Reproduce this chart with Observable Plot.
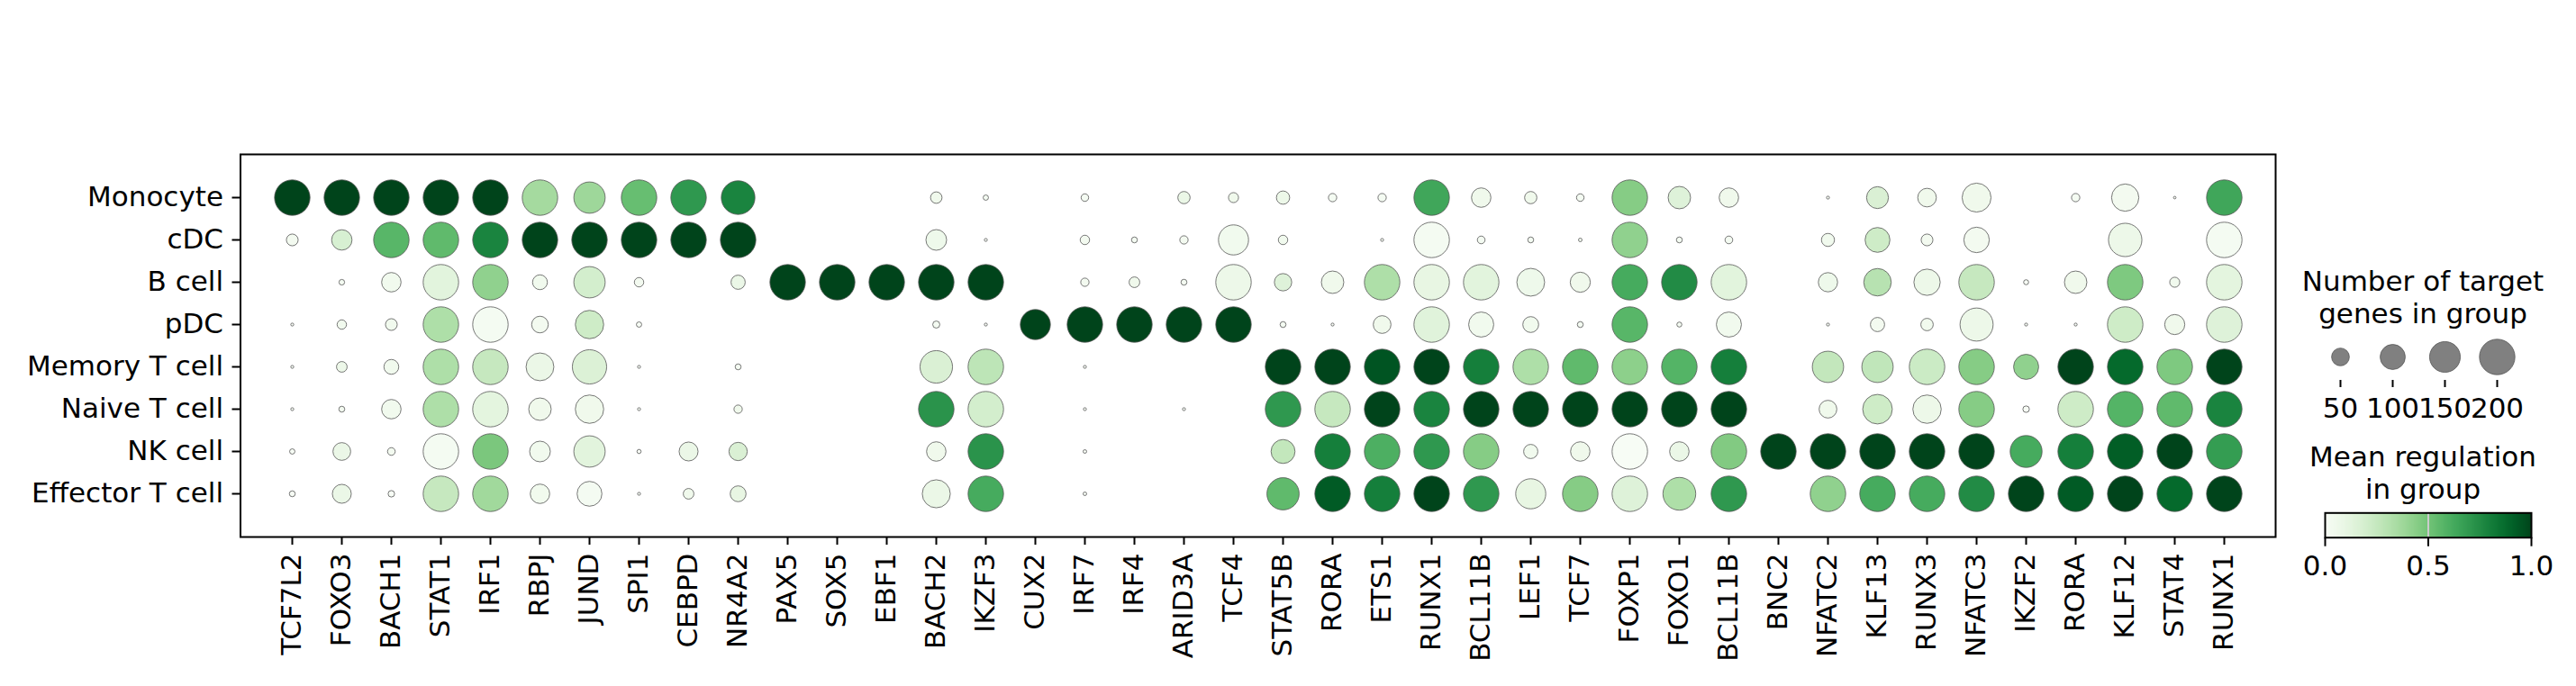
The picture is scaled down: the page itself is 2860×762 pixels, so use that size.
<!DOCTYPE html>
<html><head><meta charset="utf-8">
<script src="https://cdn.jsdelivr.net/npm/d3@7"></script>
<script src="https://cdn.jsdelivr.net/npm/@observablehq/plot@0.6"></script>
<style>
body{margin:0;background:#fff;}
#root{position:relative;width:2860px;height:762px;font-family:"DejaVu Sans",sans-serif;overflow:hidden;}
.abs{position:absolute;}
.abs svg{overflow:visible;}
.title{position:absolute;width:340px;text-align:center;font-size:31px;line-height:36px;color:#000;font-family:"DejaVu Sans",sans-serif;white-space:nowrap;}
</style></head><body><div id="root"></div>
<script>
// ---- data ----
const genes = ["TCF7L2","FOXO3","BACH1","STAT1","IRF1","RBPJ","JUND","SPI1","CEBPD","NR4A2",
  "PAX5","SOX5","EBF1","BACH2","IKZF3","CUX2","IRF7","IRF4","ARID3A","TCF4",
  "STAT5B","RORA","ETS1","RUNX1","BCL11B","LEF1","TCF7","FOXP1","FOXO1","BCL11B",
  "BNC2","NFATC2","KLF13","RUNX3","NFATC3","IKZF2","RORA","KLF12","STAT4","RUNX1"];
const cellTypes = ["Monocyte","cDC","B cell","pDC","Memory T cell","Naive T cell","NK cell","Effector T cell"];

// number of target genes in group (dot size)
const nMonocyte = [200,200,200,200,200,200,156,200,200,180, 0,0,0,21,4.5, 0,9,0,24,16, 28,11,11,200,60,24,9,200,80,60, 0,1.4,76,55,133,0,11,118,1,200];
const nCDC      = [22,66,200,200,200,200,200,200,200,200, 0,0,0,68,1.4, 0,14,5.5,11,144, 14,0,1.4,200,9.4,5.5,2,200,5.5,9.4, 0,27,98,22,103,0,0,177,0,200];
const nBcell    = [0,5,60,200,200,35,156,14,0,32, 200,200,200,200,200, 0,11,18,5.5,200, 48,80,200,200,200,123,64,200,200,200, 0,59,120,110,200,4,80,200,16,200];
const nPDC      = [1.4,14,22,200,200,44,128,4.5,0,0, 0,0,0,8,1.4, 144,200,200,200,200, 5.5,1.4,50,200,100,40,5.5,200,4,100, 0,1.4,32,24.5,174,1.4,1.4,200,64,200];
const nMemoryT  = [1.4,18,35,200,200,123,187,1.4,0,5.5, 0,0,0,168,200, 0,1.4,0,0,0, 200,200,200,200,200,200,200,200,200,200, 0,156,156,200,200,100,200,200,200,200];
const nNaiveT   = [1.4,5.5,60,200,200,80,128,1.4,0,11, 0,0,0,200,200, 0,1.4,0,1.4,0, 200,200,200,200,200,200,200,200,200,200, 0,50,139,128,200,6.7,200,200,200,200];
const nNK       = [4.5,50,9.4,200,200,68,156,2.7,57,53, 0,0,0,60,200, 0,2,0,0,0, 91,200,200,200,200,32,60,200,60,200, 200,200,200,200,200,162,200,200,200,200];
const nEffT     = [5.5,57,6.7,200,200,60,98,1.4,18,40, 0,0,0,125,200, 0,2,0,0,0, 165,200,200,200,200,144,200,200,171,200, 0,200,200,200,200,200,200,200,200,200];

// mean regulation in group (dot colour)
const vMonocyte = [1,1,1,1,1,0.36,0.38,0.53,0.7,0.78, 0,0,0,0.05,0.02, 0,0.02,0,0.08,0.05, 0.07,0.02,0.02,0.64,0.05,0.05,0.02,0.45,0.15,0.05, 0,0,0.17,0.05,0.05,0,0.02,0.03,0,0.64];
const vCDC      = [0.03,0.18,0.57,0.55,0.78,1,1,1,1,1, 0,0,0,0.06,0, 0,0.03,0.02,0.03,0.04, 0.04,0,0,0.02,0.02,0.02,0.02,0.42,0.02,0.02, 0,0.04,0.22,0.03,0.03,0,0,0.07,0,0.02];
const vBcell    = [0,0.02,0.04,0.13,0.42,0.04,0.2,0.03,0,0.08, 1,1,1,1,1, 0,0.03,0.05,0.02,0.07, 0.15,0.05,0.33,0.1,0.13,0.06,0.05,0.62,0.75,0.13, 0,0.06,0.3,0.07,0.25,0,0.05,0.47,0.04,0.12];
const vPDC      = [0,0.04,0.04,0.33,0.02,0.03,0.22,0,0,0, 0,0,0,0.02,0, 1,1,1,1,1, 0.02,0,0.05,0.14,0.04,0.04,0.02,0.57,0.02,0.04, 0,0,0.03,0.04,0.07,0,0,0.22,0.05,0.15];
const vMemoryT  = [0,0.07,0.04,0.33,0.25,0.08,0.16,0,0,0.02, 0,0,0,0.17,0.28, 0,0,0,0,0, 1,1,0.95,1,0.8,0.33,0.55,0.43,0.58,0.8, 0,0.26,0.27,0.23,0.45,0.42,1,0.88,0.47,1];
const vNaiveT   = [0,0.03,0.04,0.33,0.12,0.05,0.05,0,0,0.05, 0,0,0,0.72,0.2, 0,0,0,0,0, 0.7,0.25,1,0.78,1,1,1,1,1,1, 0,0.05,0.22,0.07,0.45,0,0.22,0.58,0.55,0.78];
const vNK       = [0,0.08,0.03,0.02,0.48,0.04,0.13,0,0.08,0.17, 0,0,0,0.05,0.72, 0,0,0,0,0, 0.26,0.8,0.6,0.7,0.45,0.04,0.05,0.0,0.08,0.46, 1,1,1,1,1,0.62,0.8,0.92,1,0.68];
const vEffT     = [0,0.08,0,0.25,0.37,0.04,0.02,0,0.05,0.1, 0,0,0,0.08,0.62, 0,0,0,0,0, 0.55,0.93,0.8,1,0.7,0.1,0.45,0.15,0.33,0.7, 0,0.42,0.62,0.62,0.75,1,0.93,1,0.88,1];

const legendSizes = [50, 100, 150, 200];
const colorTicks = [0, 0.5, 1];

// ---- table ----
const sizeRows = [nMonocyte, nCDC, nBcell, nPDC, nMemoryT, nNaiveT, nNK, nEffT];
const colorRows = [vMonocyte, vCDC, vBcell, vPDC, vMemoryT, vNaiveT, vNK, vEffT];
const table = [];
cellTypes.forEach((cell, ci) => {
  genes.forEach((g, gi) => {
    const n = sizeRows[ci][gi];
    if (n > 0) table.push({cell, gi, gene: g, n, v: colorRows[ci][gi]});
  });
});

const font = "DejaVu Sans";
const fs = 31;
const rScale = {type: "sqrt", domain: [0, 200], range: [0, 19.7]};
const colorScale = {type: "linear", scheme: "greens", domain: [0, 1]};

const root = document.getElementById("root");

const main = Plot.plot({
  width: 2860, height: 762,
  marginLeft: 266.5, marginRight: 334, marginTop: 171, marginBottom: 166,
  style: {fontFamily: font, fontSize: fs + "px", color: "black", background: "white", overflow: "visible"},
  x: {type: "point", domain: d3.range(genes.length), padding: 0.8},
  y: {type: "point", domain: cellTypes, padding: 1},
  r: rScale,
  color: colorScale,
  marks: [
    Plot.dot(table, {x: "gi", y: "cell", r: "n", fill: "v", stroke: "#555", strokeWidth: 0.8}),
    Plot.frame({stroke: "black", strokeWidth: 2}),
    Plot.axisX({tickRotate: -90, tickSize: 9, tickPadding: 9, fontSize: fs, tickFormat: i => genes[i], label: null, strokeWidth: 2}),
    Plot.axisY({tickSize: 9, tickPadding: 10, fontSize: fs, label: null, strokeWidth: 2})
  ]
});
main.style.position = "absolute"; main.style.left = "0px"; main.style.top = "0px";
root.appendChild(main);

// size legend
const sizeLeg = Plot.plot({
  width: 300, height: 130,
  marginLeft: 37.7, marginRight: 300 - 211.7, marginTop: 0, marginBottom: 130 - 52,
  style: {fontFamily: font, fontSize: fs + "px", color: "black", background: "transparent", overflow: "visible"},
  x: {type: "point", domain: legendSizes, padding: 0},
  r: rScale,
  marks: [
    Plot.dot(legendSizes, {x: d => d, r: d => d, fill: "#808080", stroke: "#555", strokeWidth: 0.8}),
    Plot.axisX({tickSize: 8, tickPadding: 11, fontSize: fs, label: null, strokeWidth: 2})
  ]
});
const sDiv = document.createElement("div");
sDiv.className = "abs"; sDiv.style.left = "2560px"; sDiv.style.top = "370px";
sDiv.appendChild(sizeLeg); root.appendChild(sDiv);

// colour bar
const cbar = Plot.plot({
  width: 300, height: 90,
  marginLeft: 21, marginRight: 50, marginTop: 9.3, marginBottom: 53.3,
  style: {fontFamily: font, fontSize: fs + "px", color: "black", background: "transparent", overflow: "visible"},
  x: {domain: [0, 1]},
  y: {domain: [0, 1], axis: null},
  color: colorScale,
  marks: [
    Plot.raster({x1: 0, x2: 1, y1: 0, y2: 1, width: 256, height: 1, fill: (x, y) => x, imageRendering: "auto"}),
    Plot.ruleX([0.5], {stroke: "#cccccc", strokeWidth: 2}),
    Plot.frame({stroke: "black", strokeWidth: 2}),
    Plot.axisX({ticks: colorTicks, tickFormat: d3.format(".1f"), tickSize: 10, tickPadding: 10, fontSize: fs, label: null, strokeWidth: 2})
  ]
});
const cDiv = document.createElement("div");
cDiv.className = "abs"; cDiv.style.left = "2560px"; cDiv.style.top = "560px";
cDiv.appendChild(cbar); root.appendChild(cDiv);

// legend titles
function title(html, top) {
  const d = document.createElement("div");
  d.className = "title"; d.style.left = "2520px"; d.style.top = top + "px";
  d.innerHTML = html; root.appendChild(d);
}
title("Number of target<br>genes in group", 294);
title("Mean regulation<br>in group", 489);
</script></body></html>
